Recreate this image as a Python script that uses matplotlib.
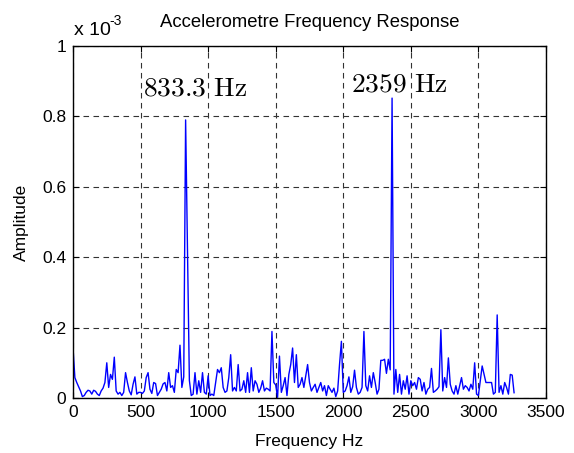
import numpy as np
import matplotlib
matplotlib.use('Agg')
import matplotlib.pyplot as plt

# FFT amplitude of the accelerometre signal (units of 1e-3), bin spacing 833.3/60 Hz
df = 833.3 / 60
amp = [
    0.142, 0.058, 0.044, 0.032, 0.020, 0.004, 0.007, 0.016, 0.022, 0.020,
    0.011, 0.022, 0.019, 0.011, 0.007, 0.020, 0.028, 0.044, 0.100, 0.030,
    0.067, 0.053, 0.116, 0.020, 0.011, 0.016, 0.007, 0.016, 0.072, 0.044,
    0.020, 0.009, 0.039, 0.060, 0.011, 0.016, 0.016, 0.013, 0.020, 0.058,
    0.072, 0.025, 0.013, 0.044, 0.041, 0.007, 0.016, 0.025, 0.040, 0.044,
    0.020, 0.072, 0.030, 0.035, 0.016, 0.081, 0.072, 0.150, 0.030, 0.060,
    0.790, 0.420, 0.050, 0.007, 0.011, 0.072, 0.011, 0.049, 0.016, 0.072,
    0.016, 0.011, 0.063, 0.007, 0.011, 0.007, 0.044, 0.081, 0.072, 0.086,
    0.030, 0.016, 0.020, 0.058, 0.123, 0.020, 0.030, 0.020, 0.095, 0.020,
    0.025, 0.049, 0.016, 0.072, 0.016, 0.086, 0.020, 0.049, 0.039, 0.016,
    0.028, 0.049, 0.020, 0.028, 0.025, 0.020, 0.189, 0.044, 0.037, 0.002,
    0.119, 0.016, 0.035, 0.058, 0.007, 0.067, 0.095, 0.142, 0.044, 0.123,
    0.030, 0.039, 0.058, 0.030, 0.063, 0.095, 0.044, 0.020, 0.030, 0.039,
    0.016, 0.030, 0.044, 0.020, 0.035, 0.007, 0.035, 0.025, 0.016, 0.028,
    0.004, 0.020, 0.095, 0.161, 0.016, 0.020, 0.035, 0.060, 0.016, 0.032,
    0.079, 0.030, 0.011, 0.016, 0.030, 0.189, 0.035, 0.020, 0.063, 0.030,
    0.072, 0.044, 0.011, 0.025, 0.107, 0.107, 0.110, 0.070, 0.110, 0.080,
    0.852, 0.011, 0.081, 0.016, 0.067, 0.011, 0.049, 0.025, 0.063, 0.011,
    0.049, 0.035, 0.044, 0.025, 0.058, 0.053, 0.020, 0.044, 0.011, 0.025,
    0.030, 0.084, 0.016, 0.020, 0.025, 0.032, 0.194, 0.020, 0.058, 0.030,
    0.114, 0.039, 0.020, 0.011, 0.035, 0.011, 0.035, 0.058, 0.025, 0.035,
    0.030, 0.020, 0.039, 0.025, 0.100, 0.011, 0.007, 0.049, 0.091, 0.067,
    0.044, 0.044, 0.044, 0.044, 0.011, 0.016, 0.236, 0.016, 0.035, 0.011,
    0.044, 0.030, 0.011, 0.067, 0.065, 0.015,
]
freq = np.arange(len(amp)) * df

xticks = [0, 500, 1000, 1500, 2000, 2500, 3000, 3500]
yticks = [0, 0.2, 0.4, 0.6, 0.8, 1]
peak_labels = ['833.3 Hz', '2359 Hz']
peak_label_pos = [(515, 0.88), (2060, 0.89)]

plt.rcParams['font.family'] = ['Liberation Sans', 'DejaVu Sans']

fig = plt.figure(figsize=(5.74, 4.53), dpi=100)
ax = fig.add_axes([73/574, 55/453, 473/574, 352/453])

ax.plot(freq, amp, color='#0000ff', linewidth=1.0)

ax.set_xlim(0, 3500)
ax.set_ylim(0, 1)
ax.set_xticks(xticks)
ax.set_xticklabels([str(t) for t in xticks])
ax.set_yticks(yticks)
ax.set_yticklabels(['%g' % t for t in yticks])
ax.tick_params(direction='in', top=True, right=True, labelsize=12.5, length=4, pad=5)
ax.grid(True, color='#333333', linestyle=(0, (5, 4)), linewidth=0.8)
for s in ax.spines.values():
    s.set_linewidth(1.0)

ax.set_title('Accelerometre Frequency Response', fontsize=13.3, pad=14)
ax.set_xlabel('Frequency Hz', fontsize=12.5, labelpad=10)
ax.set_ylabel('Amplitude', fontsize=12.5, labelpad=9)

# MATLAB style exponent label
ax.text(0.003, 1.031, 'x 10', transform=ax.transAxes, fontsize=14, va='baseline')
ax.text(0.077, 1.060, '-3', transform=ax.transAxes, fontsize=10, va='baseline')

for lab, (fx, fy) in zip(peak_labels, peak_label_pos):
    ax.text(fx, fy, r'$\mathrm{%s}$' % lab.replace(' ', r'\ '), fontsize=19.8,
            math_fontfamily='cm', va='center', ha='left')

plt.savefig('out.png', dpi=100)
